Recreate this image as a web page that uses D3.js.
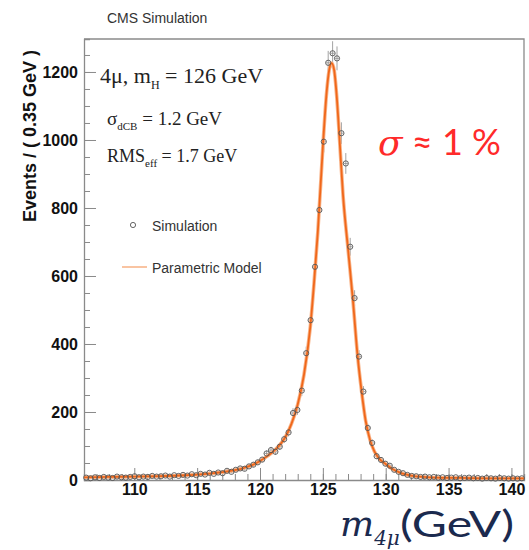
<!DOCTYPE html>
<html>
<head>
<meta charset="utf-8">
<script src="https://cdn.jsdelivr.net/npm/d3@7"></script>
<style>
  body { margin: 0; background: #fff; }
</style>
</head>
<body>
<div id="chart"></div>
<script>
// histogram: 100 bins of 0.35 GeV starting at 106 GeV
var histLow = 106, binWidth = 0.35;
var simEvents = [
  7, 5, 8, 6, 9, 7, 6, 10, 8, 7,
  9, 11, 8, 10, 9, 12, 10, 11, 13, 10,
  14, 12, 15, 13, 17, 14, 18, 16, 21, 18,
  22, 20, 27, 24, 30, 34, 33, 40, 45, 52,
  60, 78, 88, 83, 98, 120, 140, 197, 206, 263,
  373, 470, 627, 794, 995, 1227, 1255, 1240, 1020, 931,
  686, 535, 363, 260, 153, 109, 70, 59, 48, 42,
  30, 24, 20, 15, 12, 11, 9, 10, 8, 9,
  7, 8, 6, 7, 8, 5, 6, 7, 5, 6,
  4, 6, 5, 4, 6, 5, 4, 5, 4, 5
];

// parametric model curve
var modelMass = [106, 108, 110, 112, 114, 115, 116, 117, 118, 118.5, 119, 119.5, 120, 120.5, 121, 121.5,
  122, 122.5, 123, 123.5, 124, 124.3, 124.6, 125, 125.3, 125.5, 125.7, 125.9, 126.1, 126.33, 126.6,
  127, 127.4, 127.75, 128.1, 128.4, 128.75, 129.1, 129.5, 130, 130.5, 131, 131.5, 132, 133, 134, 136, 138, 141];
var modelEvents = [8, 9, 10, 11.5, 14, 16, 19, 23, 29, 33, 39, 46, 56, 68, 82, 100,
  125, 165, 222, 310, 450, 580, 730, 980, 1140, 1205, 1226, 1205, 1130, 1000, 840,
  680, 525, 370, 255, 175, 118, 84, 62, 47, 33, 24, 17, 13, 9, 7, 6, 5, 4.5];

var yMajor = [0, 200, 400, 600, 800, 1000, 1200];
var xMajor = [110, 115, 120, 125, 130, 135, 140];

var sans = "'Liberation Sans', Arial, sans-serif";
var serif = "'Liberation Serif', 'Times New Roman', serif";

var margin = { top: 39, right: 5, bottom: 70, left: 84 },
    width = 529 - margin.left - margin.right,
    height = 550 - margin.top - margin.bottom;

var svg = d3.select("#chart")
    .append("svg")
    .attr("width", 529)
    .attr("height", 550)
    .style("font-family", sans);

var plot = svg.append("g")
    .attr("transform", "translate(" + margin.left + "," + margin.top + ")");

var x = d3.scaleLinear().domain([106, 141]).range([0, width]);
var y = d3.scaleLinear().domain([0, 1297]).range([height, 0]);

var axisColor = "#8a8a8a";

// frame (top and right)
plot.append("path")
    .attr("d", "M0,0H" + width + "V" + height)
    .attr("fill", "none")
    .attr("stroke", axisColor)
    .attr("stroke-width", 1.3);

// y axis: ticks pointing inwards
var yMinor = d3.range(0, 1297, 50);
plot.append("g")
    .call(d3.axisRight(y).tickValues(yMinor).tickSize(6).tickFormat(""))
    .call(function (g) { g.selectAll("line").attr("stroke", axisColor); g.select(".domain").attr("stroke", axisColor).attr("stroke-width", 1.3); });
plot.append("g")
    .call(d3.axisRight(y).tickValues(yMajor).tickSize(12).tickFormat(""))
    .call(function (g) { g.selectAll("line").attr("stroke", axisColor); g.select(".domain").remove(); });
plot.append("g")
    .call(d3.axisLeft(y).tickValues(yMajor).tickSize(0).tickPadding(6).tickFormat(d3.format("d")))
    .call(function (g) {
        g.select(".domain").remove();
        g.selectAll("text").attr("font-size", 16).attr("font-weight", "bold")
            .style("font-family", sans).attr("fill", "#111");
    });

// x axis: ticks pointing up
var xMinor = d3.range(107, 142, 1);
plot.append("g")
    .attr("transform", "translate(0," + height + ")")
    .call(d3.axisTop(x).tickValues(xMinor).tickSize(6).tickFormat(""))
    .call(function (g) { g.selectAll("line").attr("stroke", axisColor); g.select(".domain").attr("stroke", axisColor).attr("stroke-width", 1.3); });
plot.append("g")
    .attr("transform", "translate(0," + height + ")")
    .call(d3.axisTop(x).tickValues(xMajor).tickSize(12).tickFormat(""))
    .call(function (g) { g.selectAll("line").attr("stroke", axisColor); g.select(".domain").remove(); });
plot.append("g")
    .attr("transform", "translate(0," + height + ")")
    .call(d3.axisBottom(x).tickValues(xMajor).tickSize(0).tickPadding(4))
    .call(function (g) {
        g.select(".domain").remove();
        g.selectAll("text").attr("font-size", 16).attr("font-weight", "bold")
            .style("font-family", sans).attr("fill", "#111");
    });

// error bars of the simulation points
var bins = simEvents.map(function (v, i) {
    return { lo: histLow + i * binWidth, hi: histLow + (i + 1) * binWidth, mid: histLow + (i + 0.5) * binWidth, v: v };
});

var errs = plot.append("g").attr("stroke", "#8c8c8c").attr("stroke-width", 0.8);
errs.selectAll("line.h")
    .data(bins)
    .enter()
    .append("line")
    .attr("x1", function (d) { return x(d.lo); })
    .attr("x2", function (d) { return x(d.hi); })
    .attr("y1", function (d) { return y(d.v); })
    .attr("y2", function (d) { return y(d.v); });
errs.selectAll("line.v")
    .data(bins)
    .enter()
    .append("line")
    .attr("x1", function (d) { return x(d.mid); })
    .attr("x2", function (d) { return x(d.mid); })
    .attr("y1", function (d) { return y(Math.max(0, d.v - Math.sqrt(d.v))); })
    .attr("y2", function (d) { return y(d.v + Math.sqrt(d.v)); });

// model curve
var line = d3.line()
    .x(function (d) { return x(d[0]); })
    .y(function (d) { return y(d[1]); })
    .curve(d3.curveMonotoneX);
var model = modelMass.map(function (m, i) { return [m, modelEvents[i]]; });

plot.append("path")
    .datum(model)
    .attr("fill", "none")
    .attr("stroke", "#f8b48a")
    .attr("stroke-width", 3.6)
    .attr("d", line);
plot.append("path")
    .datum(model)
    .attr("fill", "none")
    .attr("stroke", "#f0671a")
    .attr("stroke-width", 1.8)
    .attr("d", line);

// simulation markers
plot.append("g")
    .selectAll("circle")
    .data(bins)
    .enter()
    .append("circle")
    .attr("cx", function (d) { return x(d.mid); })
    .attr("cy", function (d) { return y(d.v); })
    .attr("r", 2.6)
    .attr("fill", "none")
    .attr("stroke", "#555")
    .attr("stroke-width", 0.9);

// header
svg.append("text")
    .attr("x", 107)
    .attr("y", 23)
    .attr("font-size", 14)
    .attr("fill", "#333")
    .text("CMS Simulation");

// y title
svg.append("text")
    .attr("text-anchor", "end")
    .attr("transform", "translate(36,50) rotate(-90)")
    .attr("font-size", 18)
    .attr("font-weight", "bold")
    .attr("fill", "#111")
    .text("Events / ( 0.35 GeV )");

// annotations
var t1 = svg.append("text").attr("x", 100).attr("y", 83).style("font-family", serif).attr("font-size", 22).attr("fill", "#222");
t1.append("tspan").text("4μ, m");
t1.append("tspan").attr("font-size", 12).attr("dy", 6).text("H");
t1.append("tspan").attr("dy", -6).text(" = 126 GeV");

var t2 = svg.append("text").attr("x", 107).attr("y", 125).style("font-family", serif).attr("font-size", 19).attr("fill", "#222");
t2.append("tspan").text("σ");
t2.append("tspan").attr("font-size", 11).attr("dy", 5).text("dCB");
t2.append("tspan").attr("dy", -5).text(" = 1.2 GeV");

var t3 = svg.append("text").attr("x", 107).attr("y", 162).style("font-family", serif).attr("font-size", 18).attr("fill", "#222");
t3.append("tspan").text("RMS");
t3.append("tspan").attr("font-size", 11).attr("dy", 5).text("eff");
t3.append("tspan").attr("dy", -5).text(" = 1.7 GeV");

// sigma label
var t4 = svg.append("text").attr("x", 378).attr("y", 155).style("font-family", "Lato, sans-serif").attr("font-size", 36).attr("fill", "#ff2a2a");
t4.append("tspan").style("font-family", "'DejaVu Serif', serif").attr("font-style", "italic").text("σ");
t4.append("tspan").text(" ≈ 1 %");

// legend
svg.append("circle").attr("cx", 133).attr("cy", 225).attr("r", 2.6)
    .attr("fill", "none").attr("stroke", "#555").attr("stroke-width", 0.9);
svg.append("text").attr("x", 152).attr("y", 231).attr("font-size", 14).attr("fill", "#333").text("Simulation");
svg.append("line").attr("x1", 122).attr("x2", 147).attr("y1", 267).attr("y2", 267)
    .attr("stroke", "#f7b183").attr("stroke-width", 1.5);
svg.append("text").attr("x", 152).attr("y", 273).attr("font-size", 14).attr("fill", "#333").text("Parametric Model");

// x title
var xt = svg.append("text").attr("x", 340).attr("y", 536).attr("fill", "#1b2a4e");
xt.append("tspan").style("font-family", "'DejaVu Serif', serif").attr("font-style", "italic").attr("font-size", 36).text("m");
xt.append("tspan").style("font-family", "'DejaVu Serif', serif").attr("font-style", "italic").attr("font-size", 20).attr("dy", 9).text("4μ");
svg.append("text")
    .attr("transform", "translate(400,537) scale(1.3,1)")
    .attr("fill", "#1b2a4e")
    .style("font-family", "Lato, sans-serif")
    .attr("font-size", 37)
    .text("(GeV)");
</script>
</body>
</html>
